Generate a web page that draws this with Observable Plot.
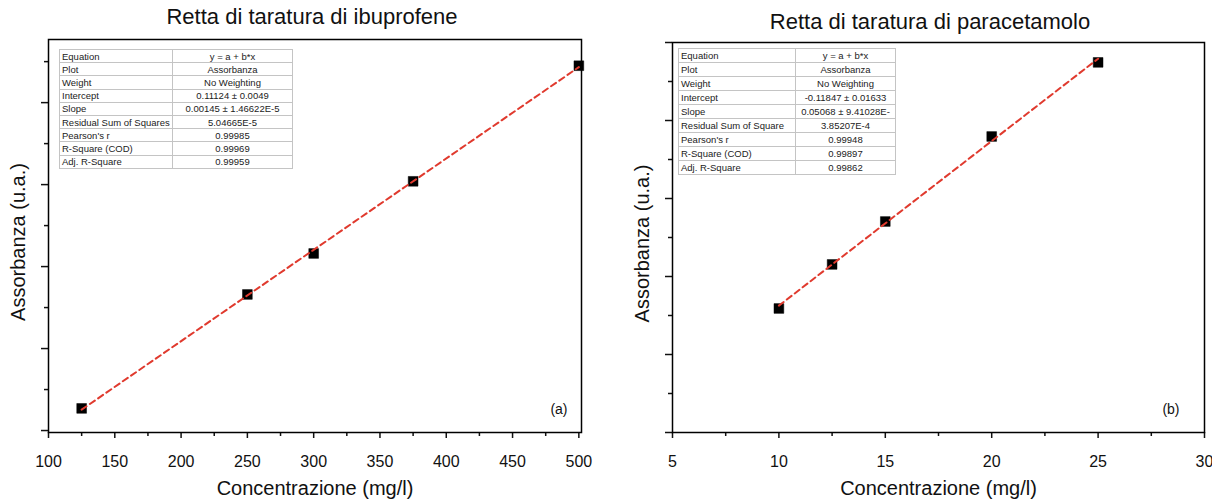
<!DOCTYPE html>
<html><head><meta charset="utf-8">
<script src="https://cdn.jsdelivr.net/npm/d3@7"></script>
<script src="https://cdn.jsdelivr.net/npm/@observablehq/plot@0.6"></script>
<style>
body{margin:0;background:#fff;font-family:Arial,"Liberation Sans",sans-serif;}
#wrap{position:relative;width:1212px;height:499px;overflow:hidden;background:#fff;}
.title{position:absolute;font-size:22px;color:#111;white-space:nowrap;transform:translate(-50%,-50%);}
.panel{position:absolute;top:30px;}
table.stats{position:absolute;border-collapse:collapse;font-size:9.5px;background:#fff;color:#222;table-layout:fixed;border:1px solid #999;}
table.stats td{border:1px solid #c4c4c4;padding:0 2px;white-space:nowrap;overflow:hidden;}
table.stats td.v{text-align:center;}
</style></head>
<body><div id="wrap"></div>
<script>
// ---- data ----
const ibuConc = [125, 250, 300, 375, 500];
const ibuAbs  = [0.227, 0.366, 0.416, 0.504, 0.645];
const paraConc = [10, 12.5, 15, 20, 25];
const paraAbs  = [0.518, 0.631, 0.741, 0.959, 1.149];

const ibuXMajor = [100, 150, 200, 250, 300, 350, 400, 450, 500];
const ibuXMinor = [125, 175, 225, 275, 325, 375, 425, 475];
const ibuYMajor = [0.2, 0.3, 0.4, 0.5, 0.6];
const ibuYMinor = [0.25, 0.35, 0.45, 0.55, 0.65];
const paraXMajor = [5, 10, 15, 20, 25, 30];
const paraXMinor = [7.5, 12.5, 17.5, 22.5, 27.5];
const paraYMajor = [0.2, 0.4, 0.6, 0.8, 1.0, 1.2];
const paraYMinor = [0.3, 0.5, 0.7, 0.9, 1.1];

const statLabels = ["Equation", "Plot", "Weight", "Intercept", "Slope", "Residual Sum of Squares", "Pearson's r", "R-Square (COD)", "Adj. R-Square"];
const statLabelsPara = ["Equation", "Plot", "Weight", "Intercept", "Slope", "Residual Sum of Square", "Pearson's r", "R-Square (COD)", "Adj. R-Square"];
const ibuStats = ["y = a + b*x", "Assorbanza", "No Weighting", "0.11124 ± 0.0049", "0.00145 ± 1.46622E-5", "5.04665E-5", "0.99985", "0.99969", "0.99959"];
const paraStats = ["y = a + b*x", "Assorbanza", "No Weighting", "-0.11847 ± 0.01633", "0.05068 ± 9.41028E-", "3.85207E-4", "0.99948", "0.99897", "0.99862"];

const titles = ["Retta di taratura di ibuprofene", "Retta di taratura di paracetamolo"];
const xLabel = "Concentrazione (mg/l)";
const yLabel = "Assorbanza (u.a.)";

const FONT = 'Arial,"Liberation Sans",sans-serif';
const wrap = document.getElementById("wrap");

function panel(o) {
  const data = o.conc.map((c, i) => ({c, a: o.abs[i]}));
  return Plot.plot({
    width: 600, height: 469,
    marginLeft: o.ml, marginRight: o.mr, marginTop: o.mt, marginBottom: 67,
    style: {fontFamily: FONT, background: "transparent", overflow: "visible", color: "#111"},
    x: {domain: o.xDomain},
    y: {domain: o.yDomain},
    marks: [
      Plot.axisX({ticks: o.xMajor, tickSize: 6, tickPadding: 17, fontSize: 16, strokeWidth: 1.5, tickFormat: d => String(d), label: null}),
      Plot.axisX({ticks: o.xMinor, tickSize: 4, strokeWidth: 1.5, tickFormat: () => "", label: null}),
      Plot.axisY({ticks: o.yMajor, tickSize: 7, strokeWidth: 1.5, tickFormat: () => "", label: null}),
      Plot.axisY({ticks: o.yMinor, tickSize: 4, strokeWidth: 1.5, tickFormat: () => "", label: null}),
      Plot.frame({stroke: "#000", strokeWidth: 1.5}),
      Plot.dot(data, {x: "c", y: "a", symbol: "square", r: 5.5, fill: "#000", stroke: "#000", strokeWidth: 0.5}),
      Plot.linearRegressionY(data, {x: "c", y: "a", stroke: "#e03a2e", strokeWidth: 2, strokeDasharray: "6,4", ci: 0}),
      Plot.text([o.tag], {frameAnchor: "bottom-right", dx: o.tagDx, dy: -19, fontSize: 14}),
      Plot.text([xLabel], {frameAnchor: "bottom", lineAnchor: "middle", dy: 56, fontSize: 20}),
      Plot.text([yLabel], {frameAnchor: "left", textAnchor: "middle", lineAnchor: "middle", rotate: -90, dx: -30, dy: 6, fontSize: 20})
    ]
  });
}

function addPanel(left, svg) {
  const d = document.createElement("div");
  d.className = "panel";
  d.style.left = left + "px";
  d.appendChild(svg);
  wrap.appendChild(d);
}

function addTitle(text, cx, cy) {
  const t = document.createElement("div");
  t.className = "title";
  t.textContent = text;
  t.style.left = cx + "px";
  t.style.top = cy + "px";
  wrap.appendChild(t);
}

function addTable(labels, vals, left, top, w1, w2, rowH) {
  const tb = document.createElement("table");
  tb.className = "stats";
  tb.style.left = left + "px";
  tb.style.top = top + "px";
  tb.style.width = (w1 + w2) + "px";
  const cg = document.createElement("colgroup");
  [w1, w2].forEach(w => { const c = document.createElement("col"); c.style.width = w + "px"; cg.appendChild(c); });
  tb.appendChild(cg);
  labels.forEach((l, i) => {
    const tr = document.createElement("tr");
    tr.style.height = rowH + "px";
    const a = document.createElement("td"); a.textContent = l;
    const b = document.createElement("td"); b.className = "v"; b.textContent = vals[i];
    tr.appendChild(a); tr.appendChild(b);
    tb.appendChild(tr);
  });
  wrap.appendChild(tb);
}

addPanel(0, panel({conc: ibuConc, abs: ibuAbs, xDomain: [100, 502], yDomain: [0.1976, 0.677],
  xMajor: ibuXMajor, xMinor: ibuXMinor, yMajor: ibuYMajor, yMinor: ibuYMinor,
  ml: 48, mr: 19, mt: 9, tag: "(a)", tagDx: -14}));
addPanel(612, panel({conc: paraConc, abs: paraAbs, xDomain: [5, 30], yDomain: [0.2, 1.2],
  xMajor: paraXMajor, xMinor: paraXMinor, yMajor: paraYMajor, yMinor: paraYMinor,
  ml: 60, mr: 8, mt: 12, tag: "(b)", tagDx: -25}));

addTitle(titles[0], 312, 17);
addTitle(titles[1], 930, 22);
addTable(statLabels, ibuStats, 59, 49, 113, 120, 13.2);
addTable(statLabelsPara, paraStats, 678, 48, 117, 100, 14);
</script>
</body></html>
